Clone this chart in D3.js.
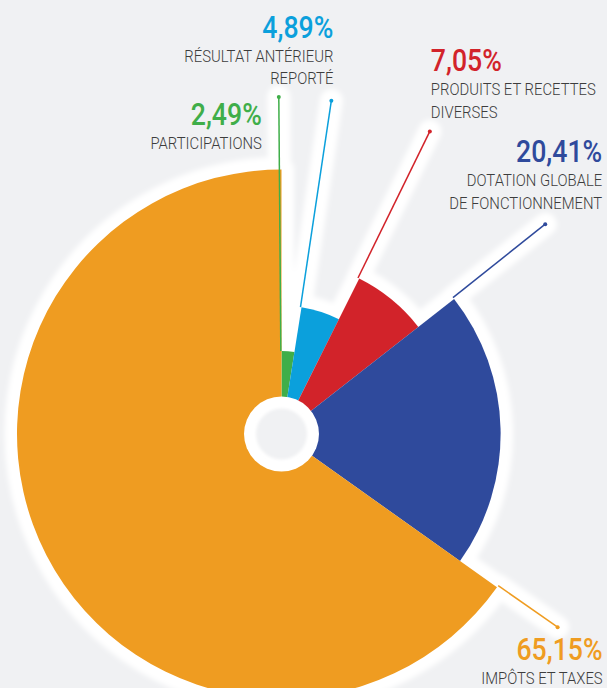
<!DOCTYPE html>
<html>
<head>
<meta charset="utf-8">
<script src="https://cdn.jsdelivr.net/npm/d3@7"></script>
<style>
  html, body { margin: 0; padding: 0; background: #f0f1f3; }
  svg { display: block; }
</style>
</head>
<body>
<div id="chart"></div>
<script>
// data
let categories = ["PARTICIPATIONS", "RÉSULTAT ANTÉRIEUR REPORTÉ", "PRODUITS ET RECETTES DIVERSES", "DOTATION GLOBALE DE FONCTIONNEMENT", "IMPÔTS ET TAXES"];
let labelLines = [["PARTICIPATIONS"], ["RÉSULTAT ANTÉRIEUR", "REPORTÉ"], ["PRODUITS ET RECETTES", "DIVERSES"], ["DOTATION GLOBALE", "DE FONCTIONNEMENT"], ["IMPÔTS ET TAXES"]];
let values = [2.49, 4.89, 7.05, 20.41, 65.15];
let colors = ["#3fae49", "#0ba0dc", "#d2232a", "#2f4a9c", "#ef9c21"];

// where each label block sits relative to the end of its leader line
let labelPlace = [
    { anchor: "end", dx: -17, dy: 28 },
    { anchor: "end", dx: 2, dy: -63 },
    { anchor: "start", dx: 1, dy: -60 },
    { anchor: "end", dx: 57, dy: -62 },
    { anchor: "end", dx: 45, dy: 33 }
];

var width = 607, height = 688;
var cx = 281.5, cy = 434;
var fontFam = "Roboto, 'Noto Sans', sans-serif";

var svg = d3.select("#chart")
    .append("svg")
    .attr("width", width)
    .attr("height", height);

svg.append("rect")
    .attr("width", width)
    .attr("height", height)
    .attr("fill", "#f0f1f3");

var defs = svg.append("defs");
defs.append("filter").attr("id", "soft")
    .attr("x", "-20%").attr("y", "-20%").attr("width", "140%").attr("height", "140%")
    .append("feGaussianBlur").attr("stdDeviation", 2.5);
defs.append("filter").attr("id", "softer")
    .append("feGaussianBlur").attr("stdDeviation", 1.6);

var g = svg.append("g")
    .attr("transform", "translate(" + cx + "," + cy + ")");

var fr = d3.formatLocale({ decimal: ",", thousands: " ", grouping: [3], currency: ["", "€"] });
var fmt = fr.format(".2f");

var pie = d3.pie().sort(null).value(function (d) { return d; });
var arcsData = pie(values);

// radius grows with the rank of the value
var order = values.map(function (v, i) { return i; })
    .sort(function (a, b) { return values[a] - values[b]; });
var rank = [];
order.forEach(function (idx, r) { rank[idx] = r; });
var radius = d3.scaleLinear().domain([0, values.length - 1]).range([83, 264.5]);
var lineEnd = 337;

function arcFor(d, i) {
    return d3.arc().innerRadius(0).outerRadius(radius(rank[i]))(d);
}
function lineAngle(d) { return d.startAngle - 0.008; }
function polar(a, r) { return [Math.sin(a) * r, -Math.cos(a) * r]; }

// white halos, soft outer part then solid part
var halo = g.append("g");
[{ w: 25, f: "url(#soft)" }, { w: 16, f: null }].forEach(function (h) {
    var layer = halo.append("g").attr("filter", h.f);
    layer.selectAll("path.h")
        .data(arcsData)
        .enter()
        .append("path")
        .attr("d", arcFor)
        .attr("fill", "#fff")
        .attr("stroke", "#fff")
        .attr("stroke-width", h.w)
        .attr("stroke-linejoin", "round");
    layer.selectAll("line.h")
        .data(arcsData)
        .enter()
        .append("line")
        .attr("x1", function (d, i) { return polar(lineAngle(d), radius(rank[i]))[0]; })
        .attr("y1", function (d, i) { return polar(lineAngle(d), radius(rank[i]))[1]; })
        .attr("x2", function (d) { return polar(lineAngle(d), lineEnd)[0]; })
        .attr("y2", function (d) { return polar(lineAngle(d), lineEnd)[1]; })
        .attr("stroke", "#fff")
        .attr("stroke-width", h.w - 2)
        .attr("stroke-linecap", "round");
});

// slices
g.selectAll("path.slice")
    .data(arcsData)
    .enter()
    .append("path")
    .attr("class", "slice")
    .attr("d", arcFor)
    .attr("fill", function (d, i) { return colors[i]; });

// leader lines
g.selectAll("line.lead")
    .data(arcsData)
    .enter()
    .append("line")
    .attr("class", "lead")
    .attr("x1", function (d, i) { return polar(lineAngle(d), radius(rank[i]))[0]; })
    .attr("y1", function (d, i) { return polar(lineAngle(d), radius(rank[i]))[1]; })
    .attr("x2", function (d) { return polar(lineAngle(d), lineEnd)[0]; })
    .attr("y2", function (d) { return polar(lineAngle(d), lineEnd)[1]; })
    .attr("stroke", function (d, i) { return colors[i]; })
    .attr("stroke-width", 1.5);

g.selectAll("circle.dot")
    .data(arcsData)
    .enter()
    .append("circle")
    .attr("cx", function (d) { return polar(lineAngle(d), lineEnd)[0]; })
    .attr("cy", function (d) { return polar(lineAngle(d), lineEnd)[1]; })
    .attr("r", 2)
    .attr("fill", function (d, i) { return colors[i]; });

// centre hole
g.append("circle").attr("r", 37.5).attr("fill", "#fff");
g.append("circle").attr("r", 25.5).attr("fill", "#f0f1f3").attr("filter", "url(#softer)");

// labels (squeezed horizontally to get the condensed look)
var labels = g.selectAll("g.label")
    .data(arcsData)
    .enter()
    .append("g")
    .attr("class", "label")
    .attr("transform", function (d, i) {
        var p = polar(lineAngle(d), lineEnd);
        return "translate(" + (p[0] + labelPlace[i].dx) + "," + (p[1] + labelPlace[i].dy) + ")";
    })
    .attr("text-anchor", function (d, i) { return labelPlace[i].anchor; });

labels.append("text")
    .attr("transform", "scale(0.86,1)")
    .attr("font-family", fontFam)
    .attr("font-weight", 500)
    .attr("font-size", 31)
    .attr("fill", function (d, i) { return colors[i]; })
    .text(function (d) { return fmt(d.data) + "%"; });

labels.each(function (d, i) {
    d3.select(this).selectAll("text.name")
        .data(labelLines[i])
        .enter()
        .append("text")
        .attr("class", "name")
        .attr("transform", function (t, j) { return "translate(0," + (24 + j * 22.5) + ") scale(0.9,1)"; })
        .attr("font-family", fontFam)
        .attr("font-weight", 300)
        .attr("font-size", 16.5)
        .attr("fill", "#3d3d3d")
        .text(function (t) { return t; });
});
</script>
</body>
</html>
